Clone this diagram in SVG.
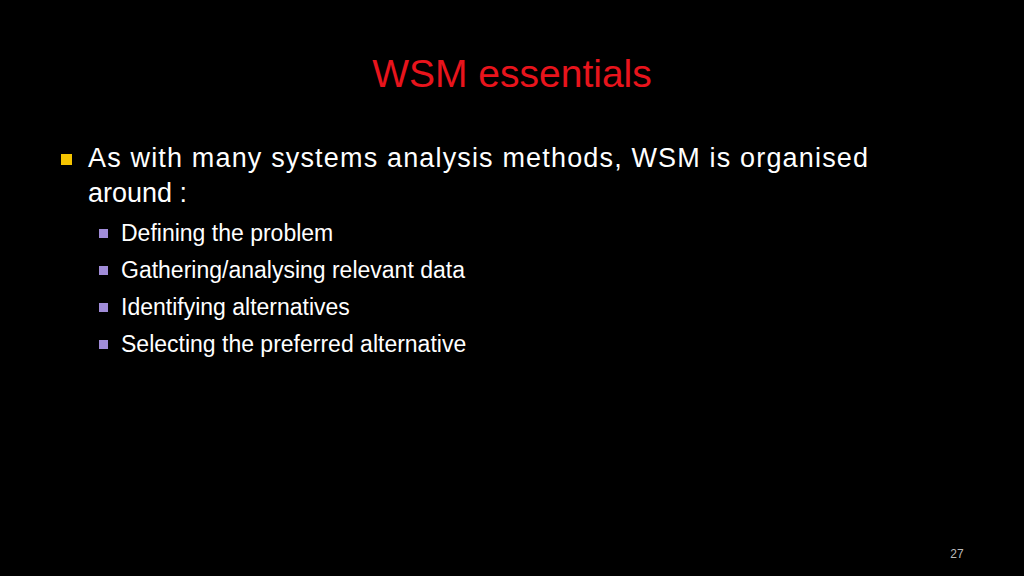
<svg xmlns="http://www.w3.org/2000/svg" width="1024" height="576" viewBox="0 0 1024 576">
<style>
text{font-family:"Liberation Sans",Arial,sans-serif}
.l1{font-size:27px;fill:#fff}
.l2{font-size:23px;fill:#fff}
.b2{fill:#a08cd8}
</style>
<rect width="1024" height="576" fill="#000"/>
<text x="512" y="87" text-anchor="middle" font-size="39" fill="#e8141c">WSM essentials</text>
<rect x="61" y="154" width="11" height="11" fill="#f5c400"/>
<text class="l1" x="88" y="167" textLength="780">As with many systems analysis methods, WSM is organised</text>
<text class="l1" x="88" y="202">around :</text>
<rect class="b2" x="99" y="229" width="9" height="9"/>
<text class="l2" x="121" y="241">Defining the problem</text>
<rect class="b2" x="99" y="266" width="9" height="9"/>
<text class="l2" x="121" y="278">Gathering/analysing relevant data</text>
<rect class="b2" x="99" y="303" width="9" height="9"/>
<text class="l2" x="121" y="315">Identifying alternatives</text>
<rect class="b2" x="99" y="340" width="9" height="9"/>
<text class="l2" x="121" y="352">Selecting the preferred alternative</text>
<text x="957" y="558" text-anchor="middle" font-size="12" fill="#bbb">27</text>
</svg>
